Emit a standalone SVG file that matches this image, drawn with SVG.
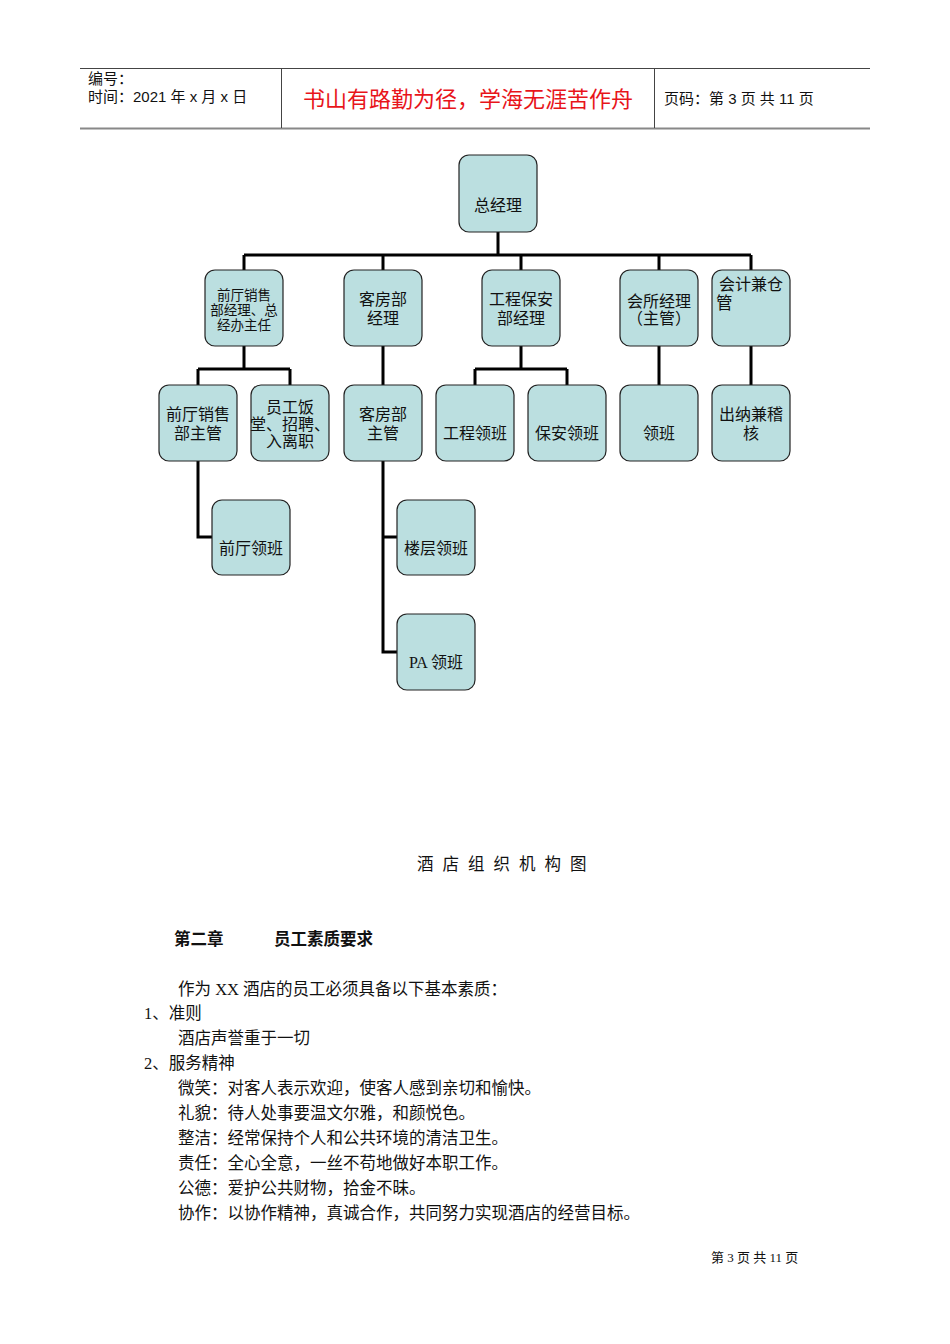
<svg xmlns="http://www.w3.org/2000/svg" width="950" height="1344" viewBox="0 0 950 1344">
<style>
.n{fill:#bbdfe0;stroke:#222;stroke-width:1.2}
.t{font-family:"Liberation Serif","Noto Sans CJK SC",serif;font-size:16px;fill:#111;text-anchor:middle}
.s{font-size:13.5px}
.b{font-family:"Liberation Serif","Noto Sans CJK SC",serif;font-size:16.5px;fill:#111}
.h{font-family:"Liberation Sans","Noto Sans CJK SC",sans-serif;font-size:15px;fill:#111}
.c{fill:none;stroke:#000;stroke-width:3}
</style>
<rect width="950" height="1344" fill="#fff"/>
<g id="header">
<line x1="80" y1="68.5" x2="870" y2="68.5" stroke="#444"/>
<line x1="80" y1="128.5" x2="870" y2="128.5" stroke="#888" stroke-width="2"/>
<line x1="281.5" y1="68" x2="281.5" y2="128" stroke="#444"/>
<line x1="654.5" y1="68" x2="654.5" y2="128" stroke="#444"/>
<text class="h" x="88" y="84">编号：</text>
<text class="h" x="88" y="102">时间：2021 年 x 月 x 日</text>
<text x="468" y="107" font-family="Liberation Sans,'Noto Sans CJK SC',sans-serif" font-size="22" fill="#e8141a" text-anchor="middle">书山有路勤为径，学海无涯苦作舟</text>
<text class="h" x="664" y="104">页码：第 3 页 共 11 页</text>
</g>
<g id="connectors">
<path class="c" d="M498 232V255M244 255H751M244 255V270M383 255V270M521 255V270M659 255V270M751 255V270"/>
<path class="c" d="M244 346V369M198 369H290M198 369V385M290 369V385"/>
<path class="c" d="M383 346V385M659 346V385M751 346V385"/>
<path class="c" d="M521 346V369M475 369H567M475 369V385M567 369V385"/>
<path class="c" d="M198 461V537H212"/>
<path class="c" d="M383 461V652H397M383 537H397"/>
</g>
<g id="n0"><rect class="n" x="459" y="155" width="78" height="77" rx="10"/><text class="t" x="498" y="211" font-size="17">总经理</text></g>
<g id="n1"><rect class="n" x="205" y="270" width="78" height="76" rx="10"/><text class="t s" x="244" y="300">前厅销售</text><text class="t s" x="244" y="315">部经理、总</text><text class="t s" x="244" y="330">经办主任</text></g>
<g id="n2"><rect class="n" x="344" y="270" width="78" height="76" rx="10"/><text class="t" x="383" y="305">客房部</text><text class="t" x="383" y="324">经理</text></g>
<g id="n3"><rect class="n" x="482" y="270" width="78" height="76" rx="10"/><text class="t" x="521" y="305">工程保安</text><text class="t" x="521" y="324">部经理</text></g>
<g id="n4"><rect class="n" x="620" y="270" width="78" height="76" rx="10"/><text class="t" x="659" y="307">会所经理</text><text class="t" x="659" y="324">（主管）</text></g>
<g id="n5"><rect class="n" x="712" y="270" width="78" height="76" rx="10"/><text class="t" x="751" y="290">会计兼仓</text><text x="716" y="309" class="b" font-size="16">管</text></g>
<g id="n6"><rect class="n" x="159" y="385" width="78" height="76" rx="10"/><text class="t" x="198" y="420">前厅销售</text><text class="t" x="198" y="439">部主管</text></g>
<g id="n7"><rect class="n" x="251" y="385" width="78" height="76" rx="10"/><text class="t" x="290" y="413">员工饭</text><text class="t" x="290" y="430">堂、招聘、</text><text class="t" x="290" y="447">入离职</text></g>
<g id="n8"><rect class="n" x="344" y="385" width="78" height="76" rx="10"/><text class="t" x="383" y="420">客房部</text><text class="t" x="383" y="439">主管</text></g>
<g id="n9"><rect class="n" x="436" y="385" width="78" height="76" rx="10"/><text class="t" x="475" y="439">工程领班</text></g>
<g id="n10"><rect class="n" x="528" y="385" width="78" height="76" rx="10"/><text class="t" x="567" y="439">保安领班</text></g>
<g id="n11"><rect class="n" x="620" y="385" width="78" height="76" rx="10"/><text class="t" x="659" y="439">领班</text></g>
<g id="n12"><rect class="n" x="712" y="385" width="78" height="76" rx="10"/><text class="t" x="751" y="420">出纳兼稽</text><text class="t" x="751" y="439">核</text></g>
<g id="n13"><rect class="n" x="212" y="500" width="78" height="75" rx="10"/><text class="t" x="251" y="554">前厅领班</text></g>
<g id="n14"><rect class="n" x="397" y="500" width="78" height="75" rx="10"/><text class="t" x="436" y="554">楼层领班</text></g>
<g id="n15"><rect class="n" x="397" y="614" width="78" height="76" rx="10"/><text class="t" x="436" y="668">PA 领班</text></g>
<g id="body" class="b">
<text x="417" y="870" letter-spacing="9">酒店组织机构图</text>
<text x="174" y="945" font-weight="bold">第二章</text>
<text x="274" y="945" font-weight="bold">员工素质要求</text>
<text x="178" y="995">作为 XX 酒店的员工必须具备以下基本素质：</text>
<text x="144" y="1019">1、准则</text>
<text x="178" y="1044">酒店声誉重于一切</text>
<text x="144" y="1069">2、服务精神</text>
<text x="178" y="1094">微笑：对客人表示欢迎，使客人感到亲切和愉快。</text>
<text x="178" y="1119">礼貌：待人处事要温文尔雅，和颜悦色。</text>
<text x="178" y="1144">整洁：经常保持个人和公共环境的清洁卫生。</text>
<text x="178" y="1169">责任：全心全意，一丝不苟地做好本职工作。</text>
<text x="178" y="1194">公德：爱护公共财物，拾金不昧。</text>
<text x="178" y="1219">协作：以协作精神，真诚合作，共同努力实现酒店的经营目标。</text>
<text x="711" y="1262" font-size="13">第 3 页 共 11 页</text>
</g>
</svg>
